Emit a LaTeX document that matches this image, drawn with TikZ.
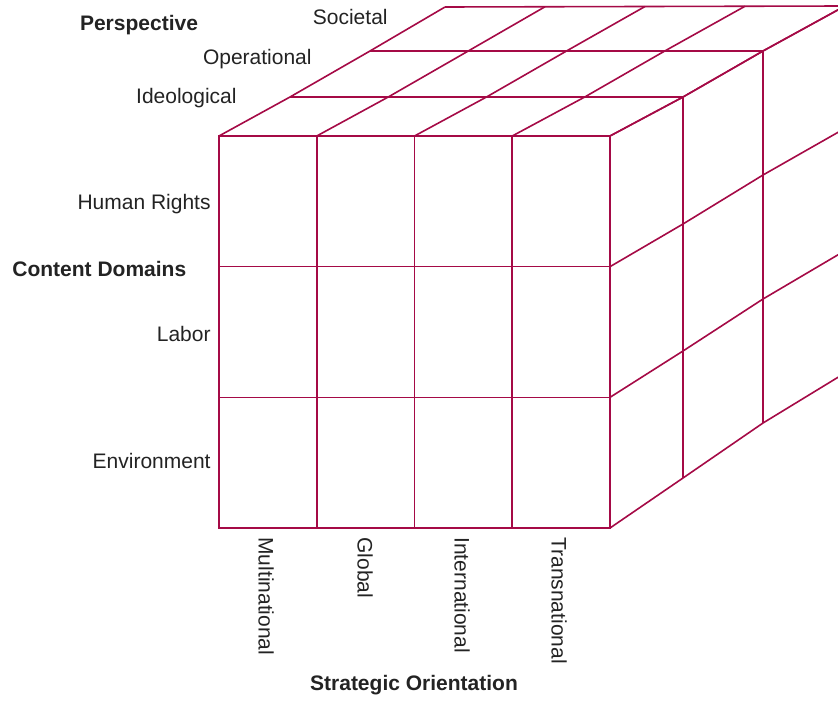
\documentclass[tikz,border=0pt]{standalone}
\usepackage{fontspec}
\setmainfont{Liberation Sans}
\usetikzlibrary{calc}
\definecolor{cubered}{RGB}{165,10,70}
\definecolor{lbltext}{RGB}{35,35,35}
\tikzset{
    % cube lines
    gridline/.style={draw=cubered, line width=0.8pt},
    edgeline/.style={draw=cubered, line width=0.9pt},
    % labels
    axislbl/.style={font=\fontsize{10.5}{12}\selectfont\bfseries, text=lbltext, inner sep=0pt},
    celllbl/.style={font=\fontsize{10.5}{12}\selectfont, text=lbltext, inner sep=0pt},
}

\begin{document}
\begin{tikzpicture}[x=0.5pt, y=-0.5pt]
\useasboundingbox (0,0) rectangle (838,701);

% Layer corners, front (0) to back (3)
\coordinate (tl0) at (219,136); \coordinate (tr0) at (610,136); \coordinate (br0) at (610,528);
\coordinate (tl1) at (290,97);  \coordinate (tr1) at (683,97);  \coordinate (br1) at (683,478);
\coordinate (tl2) at (370,51);  \coordinate (tr2) at (763,51);  \coordinate (br2) at (763,423);
\coordinate (tl3) at (445,7);   \coordinate (tr3) at (845,6);   \coordinate (br3) at (845,373);

\begin{scope}
\clip (0,0) rectangle (838,701);
% Top face
\foreach \k in {1,2,3}
    \draw[gridline] (tl\k) -- (tr\k);
\foreach \c in {0,...,4}
    \draw[gridline] ($(tl0)!\c/4!(tr0)$) -- ($(tl1)!\c/4!(tr1)$)
        -- ($(tl2)!\c/4!(tr2)$) -- ($(tl3)!\c/4!(tr3)$);

% Right face
\foreach \k in {1,2}
    \draw[gridline] (tr\k) -- (br\k);
\foreach \r in {0,...,3}
    \draw[gridline] ($(tr0)!\r/3!(br0)$) -- ($(tr1)!\r/3!(br1)$)
        -- ($(tr2)!\r/3!(br2)$) -- ($(tr3)!\r/3!(br3)$);
\end{scope}

% Front face
\foreach \c in {1,2,3}
    \draw[gridline] ($(tl0)!\c/4!(tr0)$) -- ($(tl0|-br0)!\c/4!(br0)$);
\foreach \r in {1,2}
    \draw[gridline] ($(tl0)!\r/3!(tl0|-br0)$) -- ($(tr0)!\r/3!(br0)$);
\draw[edgeline] (tl0) rectangle (br0);

% Perspective
\node[axislbl] (persp) at (139,25) {Perspective};
\node[celllbl, anchor=east] (soc) at (388,17) {Societal};
\node[celllbl, anchor=east] (oper) at (312,59) {Operational};
\node[celllbl, anchor=east] (ideo) at (237,98) {Ideological};

% Content domains
\node[axislbl, anchor=west] (cont) at (12,269) {Content Domains};
\node[celllbl, anchor=east] (hr) at (211,204) {Human Rights};
\node[celllbl, anchor=east] (lab) at (211,334) {Labor};
\node[celllbl, anchor=east] (env) at (211,461) {Environment};

% Strategic orientation
\node[celllbl, rotate=-90, anchor=west] (multi) at (266,537) {Multinational};
\node[celllbl, rotate=-90, anchor=west] (glob) at (365,537) {Global};
\node[celllbl, rotate=-90, anchor=west] (inter) at (462,537) {International};
\node[celllbl, rotate=-90, anchor=west] (trans) at (559,537) {Transnational};
\node[axislbl] (strat) at (414,685) {Strategic Orientation};
\end{tikzpicture}
\end{document}
